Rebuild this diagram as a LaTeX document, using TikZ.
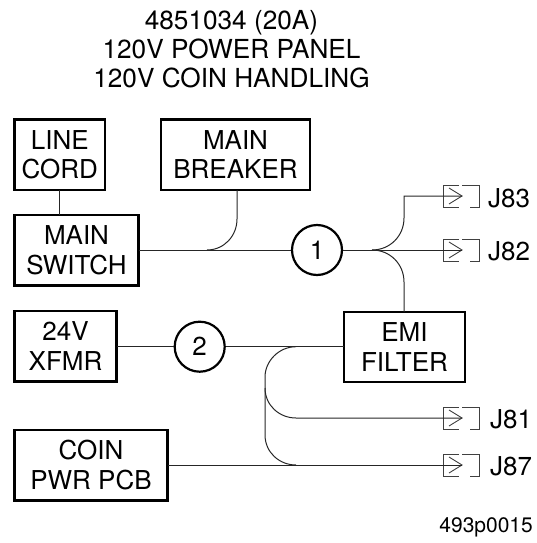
\documentclass[tikz,border=0pt]{standalone}
\usepackage{fontspec}
\setmainfont{TeX Gyre Heros}
\tikzset{
 x=1pt,y=-1pt,
 wire/.style={line width=1pt,black!85},
 blockbox/.style={draw,line width=2.3pt,outer sep=0pt,align=center,inner sep=0pt,font=\fontsize{26}{29.5}\selectfont,anchor=north west},
 numcircle/.style={draw,circle,line width=2.2pt,minimum size=50pt,inner sep=0pt,font=\fontsize{26}{31}\selectfont},
 plabel/.style={anchor=west,inner sep=0pt,font=\fontsize{26}{31}\selectfont},
 conn/.style={line width=0.9pt,black!75},
}
\newcommand{\jack}[2]{%
 \coordinate (#1) at (443,#2);
 \coordinate (#1tip) at (462,#2);
 \draw[conn] (459,#2-11) -- (443,#2-11) -- (443,#2+11) -- (459,#2+11);
 \draw[conn] (462,#2-11) -- (479,#2-11) -- (479,#2+11) -- (470,#2+11);
 \draw[conn] (449,#2-8) -- (#1tip) -- (449,#2+8);
}
\begin{document}
\begin{tikzpicture}
\useasboundingbox (0,0) rectangle (537,543);
\node[align=center,inner sep=0pt,font=\fontsize{26.2}{29}\selectfont] (title) at (231.5,49) {4851034 (20A)\\120V POWER PANEL\\120V COIN HANDLING};
\node[blockbox,minimum width=90.5pt,minimum height=70.5pt] (cord) at (14.5,119.5) {LINE\\CORD};
\node[blockbox,minimum width=124pt,minimum height=70.5pt] (switch) at (14.5,215) {MAIN\\SWITCH};
\node[blockbox,minimum width=149pt,minimum height=70.5pt] (breaker) at (161,119.5) {MAIN\\BREAKER};
\node[blockbox,minimum width=102pt,minimum height=70.5pt] (xfmr) at (14.5,311) {24V\\XFMR};
\node[blockbox,minimum width=121pt,minimum height=70pt] (emi) at (344,312) {EMI\\FILTER};
\node[blockbox,minimum width=153pt,minimum height=70.5pt] (coin) at (14.5,430) {COIN\\PWR PCB};
\node[numcircle] (c1) at (317,250) {1};
\node[numcircle] (c2) at (199.7,346.7) {2};
\jack{j83}{196}
\jack{j82}{250}
\jack{j81}{418}
\jack{j87}{465}
\node[plabel] (l83) at (488,198) {J83};
\node[plabel] (l82) at (488,251) {J82};
\node[plabel] (l81) at (490,419) {J81};
\node[plabel] (l87) at (490,466) {J87};
\node[anchor=east,inner sep=0pt,font=\fontsize{21}{25}\selectfont] (code) at (533,527) {493p0015};
\draw[wire] (cord.south -| 59,0) -- (switch.north -| 59,0);
\draw[wire] (switch.east |- c1) -- (c1);
\coordinate (b) at (207,250);
\draw[wire] (breaker.south -| 237,0) -- (237,219) .. controls (237,236) and (224,250) .. (b);
\coordinate (r) at (372,250);
\draw[wire] (c1.east) -- (j82tip);
\draw[wire] (r) .. controls (390,250) and (404,236) .. (404,218) -- (404,196) -- (j83tip);
\draw[wire] (r) .. controls (390,250) and (404,264) .. (404,282) -- (emi.north -| 404,0);
\draw[wire] (xfmr.east |- c2) -- (c2);
\draw[wire] (c2.east) -- (emi.west |- c2);
\coordinate (s) at (296,346.7);
\draw[wire] (s) .. controls (279,346.7) and (265,361) .. (265,377) -- (265,435) .. controls (265,452) and (279,465) .. (296,465);
\draw[wire] (265,388) .. controls (265,405) and (279,418) .. (296,418) -- (j81tip);
\draw[wire] (coin.east |- j87) -- (j87tip);
\end{tikzpicture}
\end{document}
